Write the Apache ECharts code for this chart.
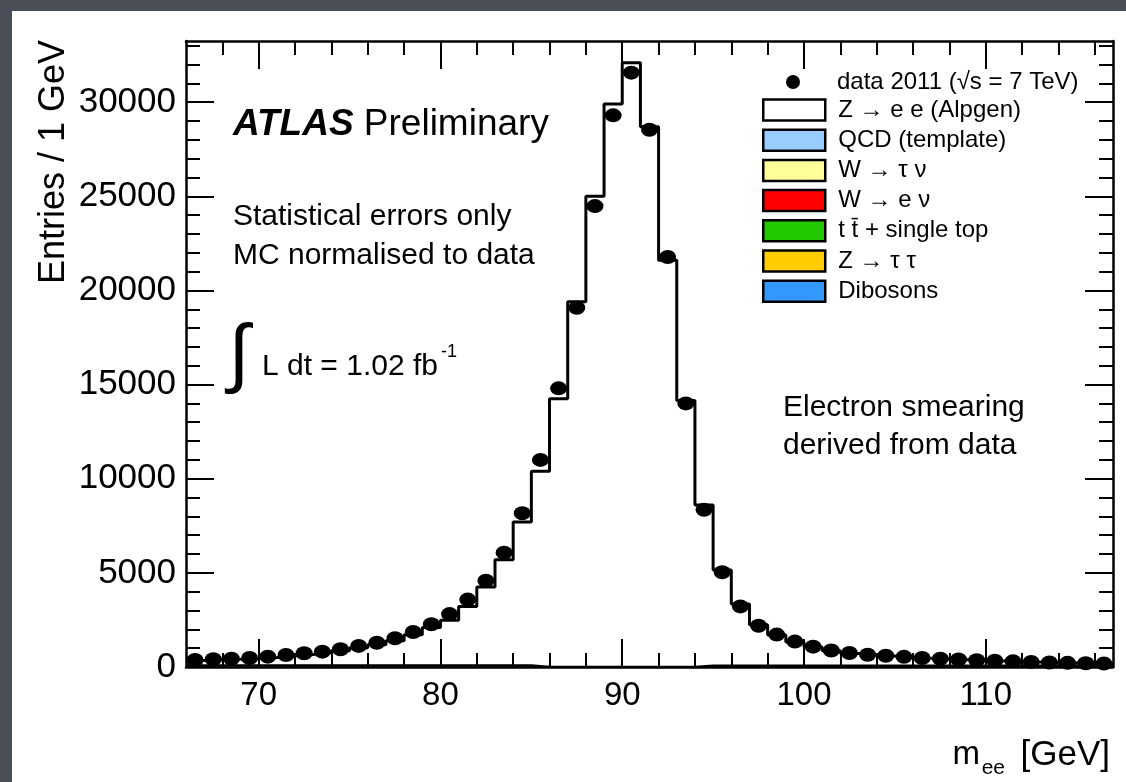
<!DOCTYPE html>
<html>
<head>
<meta charset="utf-8">
<script src="https://cdn.jsdelivr.net/npm/echarts@6/dist/echarts.min.js"></script>
<style>
  html, body { margin: 0; padding: 0; width: 1126px; height: 782px; overflow: hidden; background: #4a4e56; }
  #panel { position: absolute; left: 12px; top: 11px; right: 0; bottom: 0; background: #ffffff; }
  #chart { position: absolute; left: 0; top: 0; width: 1126px; height: 782px; }
</style>
</head>
<body>
<div id="panel"></div>
<div id="chart"></div>
<script>
// ---- data ----
// lower edges of the 1 GeV bins in m_ee
const binLow = [66,67,68,69,70,71,72,73,74,75,76,77,78,79,80,81,82,83,84,85,86,87,88,89,90,91,92,93,94,95,96,97,98,99,100,101,102,103,104,105,106,107,108,109,110,111,112,113,114,115,116];
const binWidth = 1;
// data 2011 entries per bin
const dataCounts = [370,410,440,480,550,640,730,815,940,1120,1290,1525,1860,2270,2810,3580,4580,6070,8170,11000,14800,19080,24480,29300,31570,28540,21780,14000,8350,5030,3220,2190,1720,1350,1080,880,740,650,600,540,480,440,400,360,330,300,270,240,220,200,180];
// MC stack total (Z -> ee Alpgen on top of backgrounds)
const mcTotal = [340,380,410,450,510,590,670,750,860,1020,1180,1400,1710,2100,2480,3210,4250,5700,7700,10400,14250,19400,25000,29900,32100,28700,21600,14150,8600,5150,3350,2250,1700,1330,1060,860,720,630,580,520,470,430,390,350,320,290,260,235,215,195,175];
// small background stack (QCD template etc.)
const bkgQCD = [80,80,80,80,80,80,80,80,80,80,80,80,80,80,80,80,80,80,80,0,0,0,0,0,0,0,0,0,60,60,60,60,60,60,60,60,60,60,60,60,60,60,60,60,60,60,60,60,60,60,60];

const xMajorTicks = [70,80,90,100,110];
const xMinorTicks = [68,72,74,76,78,82,84,86,88,92,94,96,98,102,104,106,108,112,114,116];
const yMajorTicks = [0,5000,10000,15000,20000,25000,30000];
const yMinorTicks = [1000,2000,3000,4000,6000,7000,8000,9000,11000,12000,13000,14000,16000,17000,18000,19000,21000,22000,23000,24000,26000,27000,28000,29000,31000,32000,33000];
const xRange = [66, 117];
const yRange = [0, 33250];

const seriesNames = {
  data: 'data 2011 (√s = 7 TeV)',
  zee: 'Z → e e (Alpgen)',
  qcd: 'QCD (template)',
  wtau: 'W → τ ν',
  wenu: 'W → e ν',
  top: 't t\u0304 + single top',
  ztau: 'Z → τ τ',
  dib: 'Dibosons'
};
const legendColors = ['#ffffff','#99ccff','#ffff99','#ff0000','#22c800','#ffcc00','#3399ff'];

// ---- build histogram outlines ----
function stepData(vals) {
  const d = binLow.map((x, i) => [x, vals[i]]);
  d.push([binLow[binLow.length - 1] + binWidth, vals[vals.length - 1]]);
  return d;
}
const pointData = binLow.map((x, i) => [x + binWidth / 2, dataCounts[i]]);

const FONT = "'Liberation Sans', Arial, Helvetica, sans-serif";
const black = '#000000';

function xAx(pos, ticks, len, showLine, showLabels) {
  return {
    type: 'value', position: pos, min: xRange[0], max: xRange[1],
    axisLine: { show: showLine, onZero: false, lineStyle: { color: black, width: 2.5 } },
    axisTick: { show: true, inside: true, length: len, customValues: ticks, lineStyle: { color: black, width: 2 } },
    axisLabel: { show: showLabels, customValues: ticks, margin: 12, fontSize: 33, color: black, fontFamily: FONT,
                 formatter: v => String(v) },
    splitLine: { show: false }
  };
}
function yAx(pos, ticks, len, showLine, showLabels) {
  return {
    type: 'value', position: pos, min: yRange[0], max: yRange[1],
    axisLine: { show: showLine, onZero: false, lineStyle: { color: black, width: 2.5 } },
    axisTick: { show: true, inside: true, length: len, customValues: ticks, lineStyle: { color: black, width: 2 } },
    axisLabel: { show: showLabels, customValues: ticks, margin: 10, fontSize: 35, color: black, fontFamily: FONT,
                 formatter: v => String(v) },
    splitLine: { show: false }
  };
}

const chart = echarts.init(document.getElementById('chart'), null, { renderer: 'canvas' });

const legendBoxNames = [seriesNames.zee, seriesNames.qcd, seriesNames.wtau, seriesNames.wenu, seriesNames.top, seriesNames.ztau, seriesNames.dib];

const txt = (x, y, text, size, extra) => Object.assign({ type: 'text', x: x, y: y, style: Object.assign({
  text: text, fontSize: size, fontFamily: FONT, fill: black, verticalAlign: 'middle', textVerticalAlign: 'middle' }, extra || {}) });

const option = {
  backgroundColor: 'transparent',
  animation: false,
  textStyle: { fontFamily: FONT },
  grid: { left: 186, right: 13, top: 41, bottom: 115, containLabel: false },
  xAxis: [
    xAx('bottom', xMajorTicks, 28, true, true),
    xAx('bottom', xMinorTicks, 14, false, false),
    xAx('top', xMajorTicks, 28, true, false),
    xAx('top', xMinorTicks, 14, false, false)
  ],
  yAxis: [
    yAx('left', yMajorTicks, 28, true, true),
    yAx('left', yMinorTicks, 14, false, false),
    yAx('right', yMajorTicks, 28, true, false),
    yAx('right', yMinorTicks, 14, false, false)
  ],
  legend: [
    {
      data: [{ name: seriesNames.data, icon: 'circle', itemStyle: { color: black, opacity: 1 } }],
      orient: 'vertical', left: 786, top: 70, padding: 0,
      itemWidth: 14, itemHeight: 14, itemGap: 0,
      selectedMode: false,
      textStyle: { fontSize: 24, color: black, fontFamily: FONT, padding: [0, 0, 0, 32] }
    },
    {
      data: legendBoxNames.map((n, i) => ({ name: n, icon: 'rect', itemStyle: { color: legendColors[i], borderColor: black, borderWidth: 2.5 } })),
      orient: 'vertical', left: 762, top: 98, padding: 0,
      itemWidth: 62, itemHeight: 21, itemGap: 6.2,
      selectedMode: false,
      textStyle: { fontSize: 24, color: black, fontFamily: FONT, padding: [0, 0, 0, 8] }
    }
  ],
  series: [
    {
      name: seriesNames.zee, type: 'line', step: 'end', data: stepData(mcTotal),
      symbol: 'none', lineStyle: { color: black, width: 3 }, itemStyle: { color: '#ffffff' }, z: 3
    },
    {
      name: seriesNames.qcd, type: 'line', step: 'end', data: stepData(bkgQCD),
      symbol: 'none', lineStyle: { color: black, width: 2.5 }, itemStyle: { color: '#99ccff' }, z: 3
    },
    { name: seriesNames.wtau, type: 'line', data: [], itemStyle: { color: '#ffff99' } },
    { name: seriesNames.wenu, type: 'line', data: [], itemStyle: { color: '#ff0000' } },
    { name: seriesNames.top, type: 'line', data: [], itemStyle: { color: '#22c800' } },
    { name: seriesNames.ztau, type: 'line', data: [], itemStyle: { color: '#ffcc00' } },
    { name: seriesNames.dib, type: 'line', data: [], itemStyle: { color: '#3399ff' } },
    {
      name: seriesNames.data, type: 'scatter', data: pointData,
      symbol: 'circle', symbolSize: [17, 14], itemStyle: { color: black, opacity: 1 }, z: 5
    }
  ],
  graphic: [
    txt(233, 125, '{a|ATLAS} {p|Preliminary}', 37, {
      rich: { a: { fontSize: 37, fontWeight: 'bold', fontStyle: 'italic', fontFamily: FONT, fill: black },
              p: { fontSize: 37, fontFamily: FONT, fill: black } } }),
    txt(233, 217, 'Statistical errors only', 30),
    txt(233, 256, 'MC normalised to data', 30),
    txt(239, 357, '∫', 76, { align: 'center', textAlign: 'center' }),
    txt(262, 367, 'L dt = 1.02 fb', 30),
    txt(441, 352, '-1', 18),
    txt(783, 408, 'Electron smearing', 30),
    txt(783, 446, 'derived from data', 30),
    Object.assign(txt(54, 40, 'Entries / 1 GeV', 36, { align: 'right', textAlign: 'right' }), { rotation: Math.PI / 2 }),
    txt(1110, 755, '[GeV]', 35, { align: 'right', textAlign: 'right' }),
    txt(1005, 768, 'ee', 21, { align: 'right', textAlign: 'right' }),
    txt(980, 755, 'm', 33, { align: 'right', textAlign: 'right' })
  ]
};
chart.setOption(option);
</script>
</body>
</html>
